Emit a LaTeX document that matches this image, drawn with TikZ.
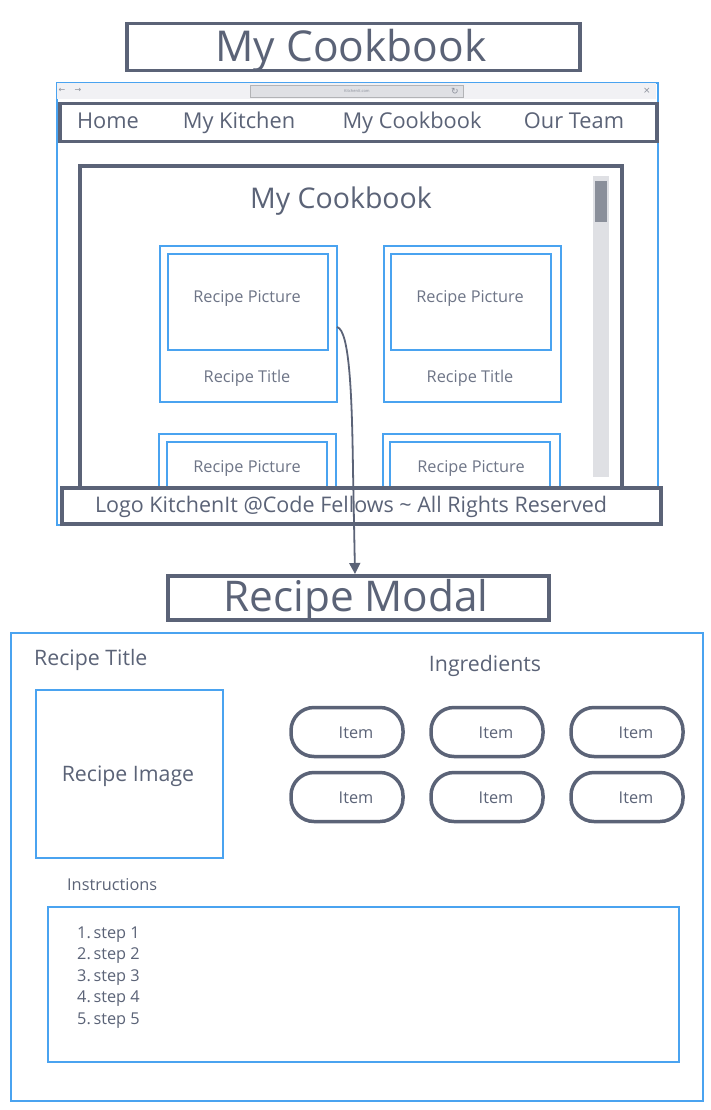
\documentclass[tikz,border=0pt]{standalone}
\usepackage{fontspec}
\setmainfont{Open Sans}
\newfontfamily\symfont{DejaVu Sans}
\usetikzlibrary{arrows.meta}
\definecolor{dk}{HTML}{5B6377}
\definecolor{bl}{HTML}{4AA3F0}
\definecolor{tx}{HTML}{5B6377}
\definecolor{lt}{HTML}{6E7587}
\definecolor{chrome}{HTML}{F1F1F4}
\definecolor{track}{HTML}{DFE0E4}
\definecolor{thumb}{HTML}{8A8F9A}
\tikzset{
  darkbox/.style={draw=dk, line width=3.5pt, inner sep=0pt, anchor=north west},
  bluebox/.style={draw=bl, line width=1.8pt, inner sep=0pt, anchor=north west},
  label/.style={text=tx, inner sep=0pt, anchor=base},
  small/.style={text=lt, inner sep=0pt, anchor=base, font=\fontsize{16.3}{16.3}\selectfont},
  pill/.style={draw=dk, line width=3.5pt, rounded corners=23pt, minimum width=112pt,
               minimum height=49pt, inner sep=0pt},
  link/.style={draw=dk, line width=1.8pt, -{Triangle[length=11pt,width=11pt]}}
}
\begin{document}
\begin{tikzpicture}[x=1pt,y=-1pt]
\useasboundingbox[fill=white] (0,0) rectangle (710,1110);

% page title
\node[darkbox, minimum width=453pt, minimum height=47pt] (title) at (125,22) {};
\node[label, font=\fontsize{42.5}{42.5}\selectfont] (titletext) at (351,62) {My Cookbook};

% browser window
\node[bluebox, minimum width=601pt, minimum height=442pt] (browser) at (56,82) {};
\fill[chrome] (57,83) rectangle (656,99);
\node[draw=track!80!black, fill=track, line width=0.8pt, minimum width=213pt, minimum height=12pt,
      inner sep=0pt, anchor=north west] (url) at (250,85) {};
\node[text=thumb, font=\fontsize{4}{4}\selectfont, inner sep=0pt] (urltext) at (url.center) {KitchenIt.com};
\node[text=thumb, font=\symfont\fontsize{9}{9}\selectfont, inner sep=0pt] (reload) at (455,91) {↻};
\node[text=thumb, font=\symfont\fontsize{8}{8}\selectfont, inner sep=0pt] (back) at (62,90) {←};
\node[text=thumb, font=\symfont\fontsize{8}{8}\selectfont, inner sep=0pt] (fwd) at (78,90) {→};
\node[text=thumb, font=\symfont\fontsize{9}{9}\selectfont, inner sep=0pt] (close) at (647,91) {×};

% navigation bar
\node[darkbox, minimum width=597pt, minimum height=38pt] (nav) at (58,102) {};
\node[label, font=\fontsize{21.8}{21.8}\selectfont] (home) at (108,129) {Home};
\node[label, font=\fontsize{21.8}{21.8}\selectfont] (kitchen) at (239,129) {My Kitchen};
\node[label, font=\fontsize{21.8}{21.8}\selectfont] (cook) at (412,129) {My Cookbook};
\node[label, font=\fontsize{21.8}{21.8}\selectfont] (team) at (574,129) {Our Team};

% content panel
\draw[dk, line width=3.5pt] (80,486) -- (80,166) -- (622,166) -- (622,486);
\node[label, font=\fontsize{28.5}{28.5}\selectfont] (heading) at (341,208) {My Cookbook};
\fill[track] (593,176) rectangle (609,477);
\fill[thumb] (595,181) rectangle (607,222);

% recipe cards
\node[bluebox, minimum width=177pt, minimum height=156pt] (card1) at (159,245) {};
\node[bluebox, minimum width=160pt, minimum height=96pt] (pic1) at (167,253) {};
\node[small] (pic1text) at (247,302) {Recipe Picture};
\node[small] (title1) at (247,382) {Recipe Title};

\node[bluebox, minimum width=177pt, minimum height=156pt] (card2) at (383,245) {};
\node[bluebox, minimum width=160pt, minimum height=96pt] (pic2) at (390,253) {};
\node[small] (pic2text) at (470,302) {Recipe Picture};
\node[small] (title2) at (470,382) {Recipe Title};

\draw[bl, line width=1.8pt] (159,487) -- (159,434) -- (336,434) -- (336,487);
\draw[bl, line width=1.8pt] (167,487) -- (167,442) -- (327,442) -- (327,487);
\node[small] (pic3) at (247,472) {Recipe Picture};
\draw[bl, line width=1.8pt] (383,487) -- (383,434) -- (560,434) -- (560,487);
\draw[bl, line width=1.8pt] (390,487) -- (390,442) -- (550,442) -- (550,487);
\node[small] (pic4) at (471,472) {Recipe Picture};

% footer
\node[darkbox, fill=white, minimum width=599pt, minimum height=36pt] (footer) at (60,486) {};
\node[label, font=\fontsize{21.5}{21.5}\selectfont] (foottext) at (351,512) {Logo KitchenIt @Code Fellows \textasciitilde{} All Rights Reserved};

% modal heading
\node[darkbox, minimum width=381pt, minimum height=44pt] (modal) at (166,574) {};
\node[label, font=\fontsize{42.3}{42.3}\selectfont] (modaltext) at (356,611) {Recipe Modal};

% card opens the modal
\coordinate (start) at (337,327);
\draw[link] (start) .. controls (350,330) and (352,400) .. (353,470) -- (modal.north -| 355,0);

% modal body
\node[bluebox, minimum width=692pt, minimum height=468pt] (body) at (10,632) {};
\node[label, font=\fontsize{21.3}{21.3}\selectfont, anchor=base west] (rtitle) at (34,665) {Recipe Title};
\node[label, font=\fontsize{21.3}{21.3}\selectfont] (ingr) at (485,671) {Ingredients};
\node[bluebox, minimum width=187pt, minimum height=168pt] (img) at (35,689) {};
\node[label, font=\fontsize{21.3}{21.3}\selectfont] (imgtext) at (128,781) {Recipe Image};

\foreach \cx/\cy/\n in {347/732/a, 487/732/b, 627/732/c, 347/797/d, 487/797/e, 627/797/f}{
  \node[pill] (item\n) at (\cx,\cy) {};
  \node[label, font=\fontsize{16.3}{16.3}\selectfont] at (\cx+9,\cy+6) {Item};
}

\node[label, font=\fontsize{16.3}{16.3}\selectfont, anchor=base west] (instr) at (67,890) {Instructions};
\node[bluebox, minimum width=631pt, minimum height=155pt] (steps) at (47,906) {};
\foreach \i in {1,...,5}{
  \node[label, font=\fontsize{16.3}{16.3}\selectfont, anchor=base west] (step\i) at (77,{938+21.5*(\i-1)}) {\i.\,step \i};
}
\end{tikzpicture}
\end{document}
